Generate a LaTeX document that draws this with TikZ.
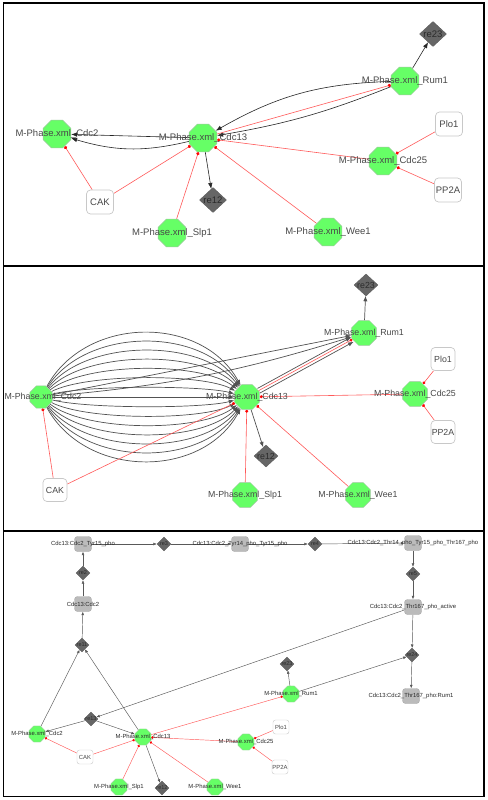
\documentclass[tikz,border=0pt]{standalone}
\usepackage{fontspec}
\setmainfont{Liberation Sans}
\usetikzlibrary{shapes.geometric,arrows.meta}
\pgfdeclarelayer{bgpaper}
\pgfdeclarelayer{edges}
\pgfsetlayers{bgpaper,edges,main}
\definecolor{octg}{HTML}{66FF66}
\definecolor{octe}{HTML}{9FC79F}
\definecolor{dia}{HTML}{666666}
\definecolor{diae}{HTML}{5A5A5A}
\definecolor{txt}{HTML}{484848}
\definecolor{dtxt}{HTML}{2B2B2B}
\definecolor{rline}{HTML}{FF5A5A}
\definecolor{sqf}{HTML}{BBBBBB}
\definecolor{sqe}{HTML}{A8A8A8}
\definecolor{recte}{HTML}{C8C8C8}
\tikzset{
  octA/.style={regular polygon, regular polygon sides=8, minimum size=30pt, inner sep=0pt, fill=octg, draw=octe, line width=0.5pt},
  octB/.style={octA, minimum size=27pt},
  octC/.style={octA, minimum size=17.5pt, line width=0.3pt},
  diaA/.style={diamond, minimum width=27pt, minimum height=25pt, inner sep=0pt, fill=dia, draw=diae, line width=0.4pt},
  diaB/.style={diaA, minimum width=24pt, minimum height=22pt},
  diaC/.style={diaA, minimum width=14pt, minimum height=14pt, line width=0.3pt},
  rectA/.style={rectangle, rounded corners=4pt, minimum width=27pt, minimum height=24pt, inner sep=0pt, fill=white, draw=recte, line width=0.7pt, text=txt, font=\fontsize{9.5}{11}\selectfont},
  rectB/.style={rectA, minimum width=24pt, minimum height=23pt, font=\fontsize{8.8}{10}\selectfont},
  rectC/.style={rectA, rounded corners=2.5pt, minimum width=16pt, minimum height=14pt, line width=0.4pt, font=\fontsize{5.9}{7}\selectfont},
  sqC/.style={rectangle, rounded corners=3pt, minimum width=17pt, minimum height=15pt, inner sep=0pt, fill=sqf, draw=sqe, line width=0.4pt},
  labA/.style={inner sep=0pt, text=txt, font=\fontsize{9.5}{11}\selectfont},
  labB/.style={inner sep=0pt, text=txt, font=\fontsize{8.8}{10}\selectfont},
  labC/.style={inner sep=0pt, text=dtxt, font=\fontsize{5.9}{7}\selectfont},
  dlabA/.style={inner sep=0pt, text=dtxt, font=\fontsize{9.5}{11}\selectfont},
  dlabB/.style={inner sep=0pt, text=dtxt, font=\fontsize{8.8}{10}\selectfont},
  dlabC/.style={inner sep=0pt, text=dtxt, font=\fontsize{5.5}{7}\selectfont},
  arA/.style={draw=black!85, line width=0.6pt, -{Latex[length=6pt,width=4.5pt]}},
  arB/.style={draw=black!68, line width=0.7pt, -{Latex[length=5.5pt,width=4.2pt]}},
  arC/.style={draw=black!65, line width=0.45pt, -{Latex[length=3.5pt,width=2.8pt]}},
  rdA/.style={draw=rline, line width=0.6pt, -{Circle[length=3.2pt,color=red]}},
  rdB/.style={draw=rline, line width=0.6pt, -{Circle[length=3pt,color=red]}},
  rdC/.style={draw=rline, line width=0.45pt, -{Circle[length=2.4pt,color=red]}},
  frame/.style={draw=black, line width=1.4pt}
}
\begin{document}
\begin{tikzpicture}[x=1pt,y=-1pt]
\useasboundingbox (0,0) rectangle (487,800);
\begin{pgfonlayer}{bgpaper}
\fill[white] (0,0) rectangle (487,800);
\end{pgfonlayer}

% ================= Panel A =================
\node[octA] (a-cdc2) at (57,134) {};
\node[octA] (a-cdc13) at (203,138) {};
\node[octA] (a-rum1) at (405,81) {};
\node[octA] (a-cdc25) at (383,161) {};
\node[octA] (a-slp1) at (172,233) {};
\node[octA] (a-wee1) at (328,232) {};
\node[diaA] (a-re23) at (433,34) {};
\node[diaA] (a-re12) at (213,200) {};
\node[rectA] (a-plo1) at (449,124) {Plo1};
\node[rectA] (a-pp2a) at (448,190) {PP2A};
\node[rectA] (a-cak) at (100,202) {CAK};
\node[labA] (a-cdc2-t) at (a-cdc2) {M-Phase.xml\_Cdc2};
\node[labA] (a-cdc13-t) at (a-cdc13) {M-Phase.xml\_Cdc13};
\node[labA] (a-rum1-t) at (a-rum1) {M-Phase.xml\_Rum1};
\node[labA] (a-cdc25-t) at (a-cdc25) {M-Phase.xml\_Cdc25};
\node[labA] (a-slp1-t) at (a-slp1) {M-Phase.xml\_Slp1};
\node[labA] (a-wee1-t) at (a-wee1) {M-Phase.xml\_Wee1};
\node[dlabA] (a-re23-t) at (a-re23) {re23};
\node[dlabA] (a-re12-t) at (a-re12) {re12};

% ================= Panel B =================
\node[octB, minimum size=24pt] (b-cdc2) at (41,397) {};
\node[octB] (b-cdc13) at (247,397) {};
\node[octB] (b-rum1) at (364,333) {};
\node[octB] (b-cdc25) at (415,394) {};
\node[octB] (b-slp1) at (245,495) {};
\node[octB] (b-wee1) at (358,495) {};
\node[diaB] (b-re23) at (366,285) {};
\node[diaB] (b-re12) at (266,456) {};
\node[rectB] (b-plo1) at (443,359) {Plo1};
\node[rectB] (b-pp2a) at (443,432) {PP2A};
\node[rectB] (b-cak) at (55,490) {CAK};
\node[labB] (b-cdc2-t) at (43,397) {M-Phase.xml\_Cdc2};
\node[labB] (b-cdc13-t) at (b-cdc13) {M-Phase.xml\_Cdc13};
\node[labB] (b-rum1-t) at (b-rum1) {M-Phase.xml\_Rum1};
\node[labB] (b-cdc25-t) at (b-cdc25) {M-Phase.xml\_Cdc25};
\node[labB] (b-slp1-t) at (b-slp1) {M-Phase.xml\_Slp1};
\node[labB] (b-wee1-t) at (b-wee1) {M-Phase.xml\_Wee1};
\node[dlabB] (b-re23-t) at (b-re23) {re23};
\node[dlabB] (b-re12-t) at (b-re12) {re12};

% ================= Panel C =================
\node[sqC] (c-tyr15) at (83,544) {};
\node[sqC] (c-tyr14) at (240,544) {};
\node[sqC] (c-thr14) at (413,543) {};
\node[sqC] (c-active) at (413,607) {};
\node[sqC] (c-rumcx) at (411,696) {};
\node[sqC] (c-cc) at (83,604) {};
\node[diaC] (c-re3) at (164,544) {};
\node[diaC] (c-re4) at (315,544) {};
\node[diaC] (c-re5) at (413,574) {};
\node[diaC] (c-re24) at (412,655) {};
\node[diaC] (c-re2) at (83,573) {};
\node[diaC] (c-re11) at (82,645) {};
\node[diaC] (c-re23) at (287,664) {};
\node[diaC] (c-re13) at (91,719) {};
\node[diaC] (c-re12) at (162,788) {};
\node[octC] (c-rum1) at (291,694) {};
\node[octC] (c-cdc2) at (37,734) {};
\node[octC] (c-cdc13) at (143,737) {};
\node[octC] (c-cdc25) at (246,742) {};
\node[octC] (c-slp1) at (119,787) {};
\node[octC] (c-wee1) at (215,787) {};
\node[rectC] (c-plo1) at (281,727) {Plo1};
\node[rectC] (c-pp2a) at (280,767) {PP2A};
\node[rectC] (c-cak) at (85,757) {CAK};
\node[labC] (c-tyr15-t) at (c-tyr15) {Cdc13:Cdc2\_Tyr15\_pho};
\node[labC] (c-tyr14-t) at (c-tyr14) {Cdc13:Cdc2\_Tyr14\_pho\_Tyr15\_pho};
\node[labC] (c-thr14-t) at (c-thr14) {Cdc13:Cdc2\_Thr14\_pho\_Tyr15\_pho\_Thr167\_pho};
\node[labC] (c-active-t) at (c-active) {Cdc13:Cdc2\_Thr167\_pho\_active};
\node[labC] (c-rumcx-t) at (c-rumcx) {Cdc13:Cdc2\_Thr167\_pho:Rum1};
\node[labC] (c-cc-t) at (c-cc) {Cdc13:Cdc2};
\node[labC] (c-rum1-t) at (c-rum1) {M-Phase.xml\_Rum1};
\node[labC] (c-cdc2-t) at (c-cdc2) {M-Phase.xml\_Cdc2};
\node[labC] (c-cdc13-t) at (c-cdc13) {M-Phase.xml\_Cdc13};
\node[labC] (c-cdc25-t) at (c-cdc25) {M-Phase.xml\_Cdc25};
\node[labC] (c-slp1-t) at (c-slp1) {M-Phase.xml\_Slp1};
\node[labC] (c-wee1-t) at (c-wee1) {M-Phase.xml\_Wee1};
\node[dlabC] (c-re3-t) at (c-re3) {re3};
\node[dlabC] (c-re4-t) at (c-re4) {re4};
\node[dlabC] (c-re5-t) at (c-re5) {re5};
\node[dlabC] (c-re24-t) at (c-re24) {re24};
\node[dlabC] (c-re2-t) at (c-re2) {re2};
\node[dlabC] (c-re11-t) at (c-re11) {re11};
\node[dlabC] (c-re23-t) at (c-re23) {re23};
\node[dlabC] (c-re13-t) at (c-re13) {re13};
\node[dlabC] (c-re12-t) at (c-re12) {re12};

\begin{pgfonlayer}{edges}
% ---- Panel A edges
\draw[arA] (a-rum1) -- (a-re23);
\draw[arA] (a-rum1) to[bend right=14] (a-cdc13);
\draw[arA] (a-rum1) to[bend left=6] (a-cdc13);
\draw[rdA] (a-cdc13) -- (a-rum1);
\draw[arA] (a-cdc13) -- (a-cdc2);
\draw[arA] (a-cdc13) to[bend left=15] (a-cdc2);
\draw[arA] (a-cdc13) -- (a-re12);
\draw[rdA] (a-cak) -- (a-cdc2);
\draw[rdA] (a-cak) -- (a-cdc13);
\draw[rdA] (a-slp1) -- (a-cdc13);
\draw[rdA] (a-wee1) -- (a-cdc13);
\draw[rdA] (a-cdc25) -- (a-cdc13);
\draw[rdA] (a-plo1) -- (a-cdc25);
\draw[rdA] (a-pp2a) -- (a-cdc25);

% ---- Panel B edges
\draw[arB] (b-rum1) -- (b-re23);
\draw[arB] (b-cdc2) -- (b-cdc13);
\foreach \h in {11.7,23.5,35.2,47,58.7,70.4,82.1} {
  \draw[arB] (b-cdc2) .. controls +(45,-\h) and +(-45,-\h) .. (b-cdc13);
  \draw[arB] (b-cdc2) .. controls +(45,\h) and +(-45,\h) .. (b-cdc13);
}
\draw[arB] (b-cdc2) -- (b-rum1);
\draw[arB] (b-cdc2) to[bend right=6] (b-rum1);
\draw[arB, transform canvas={shift={(-1.2,-2.2)}}] (b-cdc13) -- (b-rum1);
\draw[arB, transform canvas={shift={(1.3,2.4)}}] (b-cdc13) -- (b-rum1);
\draw[rdB] (b-cdc13) -- (b-rum1);
\draw[arB] (b-cdc13) -- (b-re12);
\draw[rdB] (b-cak) -- (b-cdc2);
\draw[rdB] (b-cak) -- (b-cdc13);
\draw[rdB] (b-slp1) -- (b-cdc13);
\draw[rdB] (b-wee1) -- (b-cdc13);
\draw[rdB] (b-cdc25) -- (b-cdc13);
\draw[rdB] (b-plo1) -- (b-cdc25);
\draw[rdB] (b-pp2a) -- (b-cdc25);

% ---- Panel C edges
\draw[arC] (c-tyr15) -- (c-re3);
\draw[arC] (c-re3) -- (c-tyr14);
\draw[arC] (c-tyr14) -- (c-re4);
\draw[arC] (c-re4) -- (c-thr14);
\draw[arC] (c-thr14) -- (c-re5);
\draw[arC] (c-re5) -- (c-active);
\draw[arC] (c-active) -- (c-re24);
\draw[arC] (c-re24) -- (c-rumcx);
\draw[arC] (c-rum1) -- (c-re24);
\draw[arC] (c-rum1) -- (c-re23);
\draw[arC] (c-active) -- (c-re13);
\draw[arC] (c-re13) -- (c-cdc2);
\draw[arC] (c-re13) -- (c-cdc13);
\draw[arC] (c-cdc2) -- (c-re11);
\draw[arC] (c-cdc13) -- (c-re11);
\draw[arC] (c-re11) -- (c-cc);
\draw[arC] (c-cc) -- (c-re2);
\draw[arC] (c-re2) -- (c-tyr15);
\draw[arC] (c-cdc13) -- (c-re12);
\draw[rdC] (c-cak) -- (c-cdc2);
\draw[rdC] (c-cak) -- (c-cdc13);
\draw[rdC] (c-slp1) -- (c-cdc13);
\draw[rdC] (c-wee1) -- (c-cdc13);
\draw[rdC] (c-cdc25) -- (c-cdc13);
\draw[rdC] (c-cdc13) -- (c-rum1);
\draw[rdC] (c-plo1) -- (c-cdc25);
\draw[rdC] (c-pp2a) -- (c-cdc25);
\end{pgfonlayer}

% ---- frames
\draw[frame] (3.5,3) rectangle (484,796.5);
\draw[frame] (3.5,266) -- (484,266);
\draw[frame] (3.5,531) -- (484,531);
\end{tikzpicture}
\end{document}
